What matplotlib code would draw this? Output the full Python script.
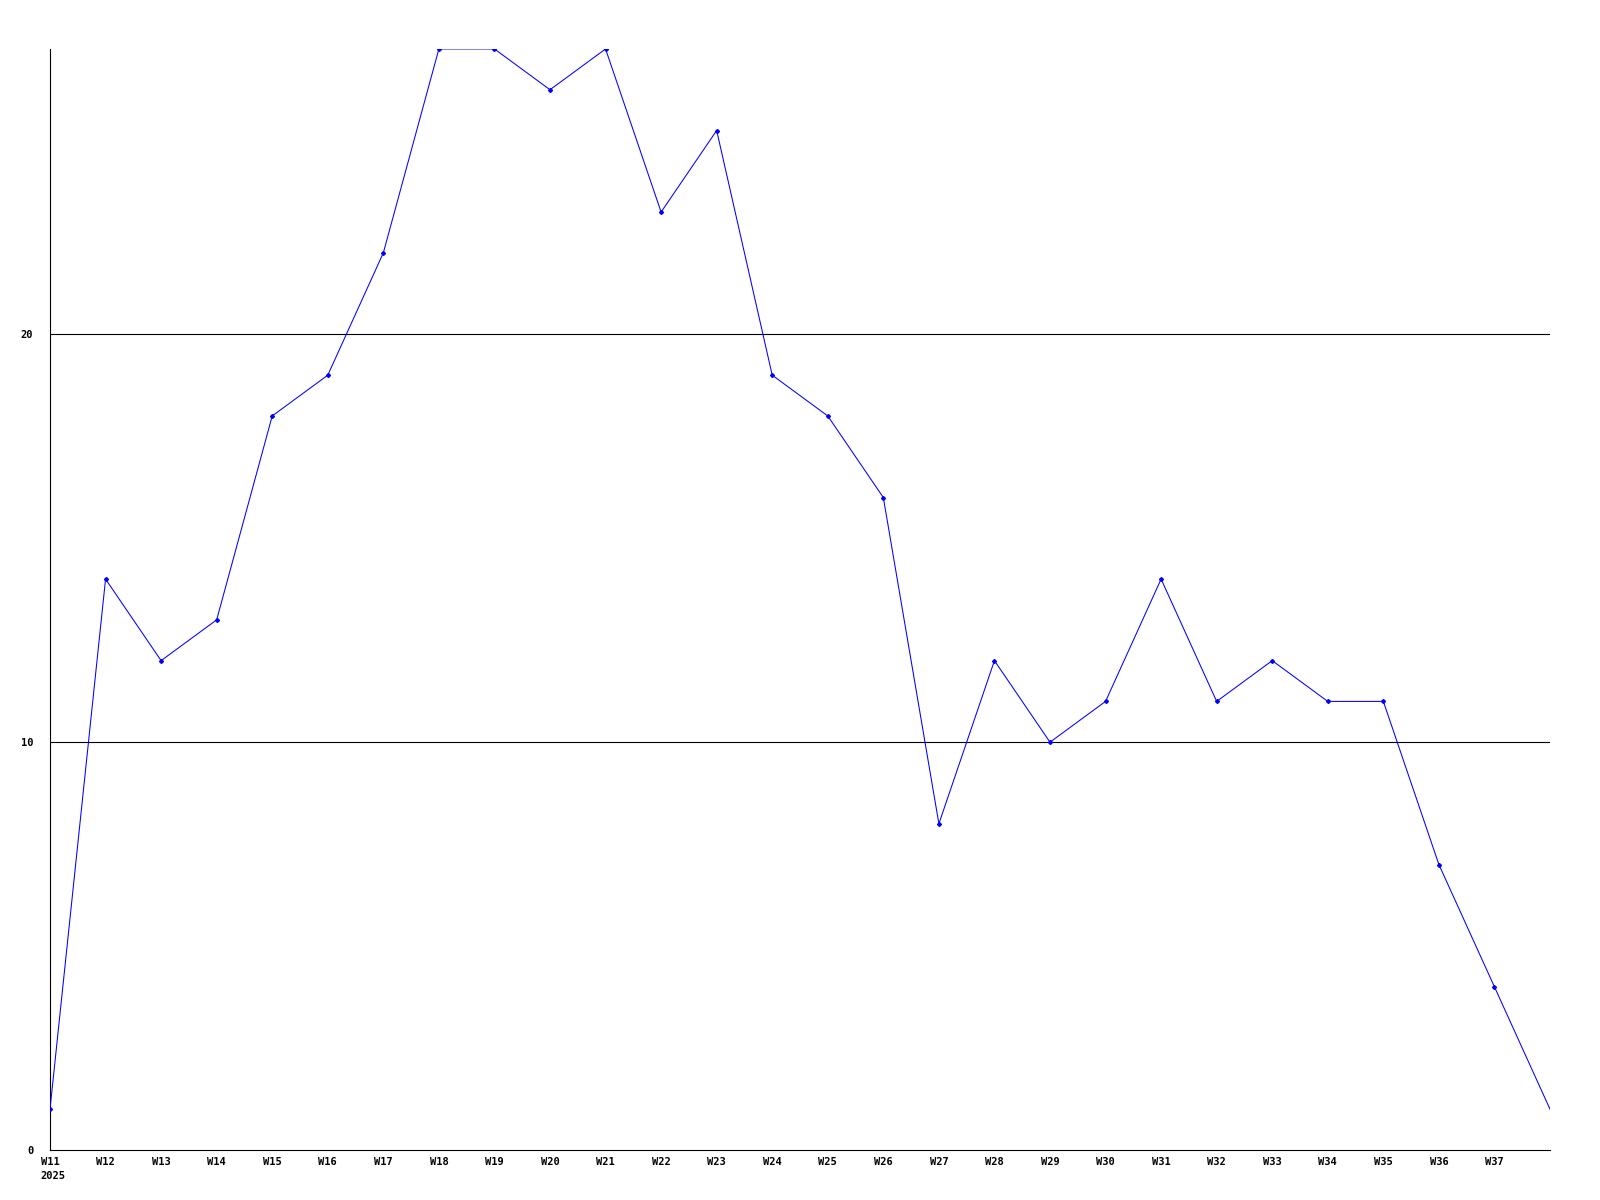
import matplotlib
matplotlib.use("Agg")
import matplotlib.pyplot as plt

# weekly values
weeks = ["W11", "W12", "W13", "W14", "W15", "W16", "W17", "W18", "W19",
         "W20", "W21", "W22", "W23", "W24", "W25", "W26", "W27", "W28",
         "W29", "W30", "W31", "W32", "W33", "W34", "W35", "W36", "W37", "W38"]
values = [1, 14, 12, 13, 18, 19, 22, 27, 27, 26, 27, 23, 25, 19, 18, 16,
          8, 12, 10, 11, 14, 11, 12, 11, 11, 7, 4, 1]
year_label = "2025"
y_ticks = [0, 10, 20]
shown_week_labels = weeks[:-1]

font = {"family": "DejaVu Sans Mono", "weight": "bold", "size": 7.5}

fig = plt.figure(figsize=(16, 12), dpi=100)
ax = fig.add_axes([0.03125, 0.0417, 0.9375, 0.9175])

x = list(range(len(values)))
ax.plot(x, values, color="#0000ff", linewidth=0.75, marker="D", markersize=2,
        markevery=list(range(len(values) - 1)), zorder=3)

ax.set_xlim(0, len(values) - 1)
ax.set_ylim(0, max(values))

for yv in y_ticks[1:]:
    ax.axhline(yv, color="black", linewidth=0.8, zorder=1)

ax.set_yticks(y_ticks)
ax.set_yticklabels([str(v) for v in y_ticks], fontdict=font)
ax.set_xticks(range(len(shown_week_labels)))
ax.set_xticklabels(shown_week_labels, fontdict=font)
ax.tick_params(axis="both", length=0)
ax.tick_params(axis="y", pad=12)
ax.tick_params(axis="x", pad=5)

# year under the first week label
ax.annotate(year_label, xy=(0, 0), xycoords=("data", "axes fraction"),
            xytext=(-7.2, -15.5), textcoords="offset points",
            ha="left", va="top", fontproperties=None, **font)

for side in ["top", "right"]:
    ax.spines[side].set_visible(False)
for side in ["left", "bottom"]:
    ax.spines[side].set_color("black")
    ax.spines[side].set_linewidth(0.8)

fig.savefig("out.png", dpi=100, facecolor="white")
